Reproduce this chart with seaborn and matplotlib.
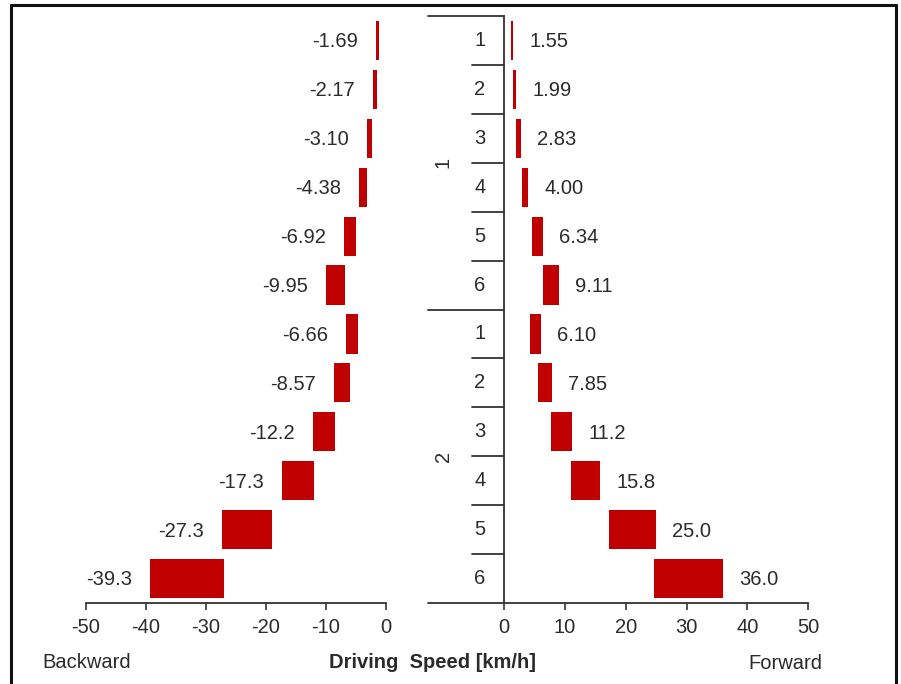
import matplotlib
matplotlib.use("Agg")
import matplotlib.pyplot as plt
import seaborn as sns
import numpy as np
import pandas as pd
from matplotlib.lines import Line2D

# ---------------- data ----------------
groups = ["1", "2"]
gears = ["1", "2", "3", "4", "5", "6"]

forward_max_g1 = [1.55, 1.99, 2.83, 4.00, 6.34, 9.11]
forward_min_g1 = [1.1, 1.4, 2.0, 2.9, 4.6, 6.4]
forward_max_g2 = [6.10, 7.85, 11.2, 15.8, 25.0, 36.0]
forward_min_g2 = [4.3, 5.6, 7.8, 11.0, 17.3, 24.7]

backward_max_g1 = [-1.69, -2.17, -3.10, -4.38, -6.92, -9.95]
backward_min_g1 = [-1.2, -1.5, -2.3, -3.1, -5.0, -6.8]
backward_max_g2 = [-6.66, -8.57, -12.2, -17.3, -27.3, -39.3]
backward_min_g2 = [-4.6, -6.0, -8.4, -11.9, -18.9, -26.9]

x_ticks_fwd = [0, 10, 20, 30, 40, 50]
x_ticks_bwd = [-50, -40, -30, -20, -10, 0]

# ---------------- table ----------------
rows = [f"{g}-{k}" for g in groups for k in gears]
fwd_max = np.array(forward_max_g1 + forward_max_g2)
fwd_min = np.array(forward_min_g1 + forward_min_g2)
bwd_max = np.array(backward_max_g1 + backward_max_g2)
bwd_min = np.array(backward_min_g1 + backward_min_g2)
df = pd.DataFrame({
    "row": rows,
    "fwd_w": fwd_max - fwd_min,
    "bwd_w": bwd_max - bwd_min,
})

sns.set_theme(style="white")
plt.rcParams["font.family"] = ["Liberation Sans", "DejaVu Sans"]
TXT = "#2b2b2b"
LINE = "#333333"
BAR = "#C00000"
FS = 14.5

W, H = 901, 684
fig = plt.figure(figsize=(W / 100, H / 100), dpi=100)
fig.patch.set_facecolor("white")

bottom = (H - 603) / H
height = (603 - 16) / H
axr = fig.add_axes([504 / W, bottom, (808.3 - 504) / W, height])
axl = fig.add_axes([86 / W, bottom, (385.7 - 86) / W, height])

# forward bars
sns.barplot(data=df, y="row", x="fwd_w", order=rows, orient="h", color=BAR,
            width=0.8, errorbar=None, left=fwd_min, linewidth=0,
            saturation=1, ax=axr)
# backward bars
sns.barplot(data=df, y="row", x="bwd_w", order=rows, orient="h", color=BAR,
            width=0.8, errorbar=None, left=bwd_min, linewidth=0,
            saturation=1, ax=axl)

for ax, ticks in ((axr, x_ticks_fwd), (axl, x_ticks_bwd)):
    ax.set_xlim(ticks[0], ticks[-1])
    ax.set_ylim(11.5, -0.5)
    ax.set_xticks(ticks)
    ax.set_xticklabels([str(t) for t in ticks])
    ax.set_yticks([])
    ax.set_xlabel("")
    ax.set_ylabel("")
    ax.patch.set_alpha(0)
    for s in ("top", "right"):
        ax.spines[s].set_visible(False)
    ax.spines["bottom"].set_color(LINE)
    ax.spines["bottom"].set_linewidth(1.3)
    ax.tick_params(axis="x", direction="out", length=5, width=1.2,
                   color=LINE, labelsize=FS, labelcolor=TXT, pad=5.5,
                   bottom=True)

axl.spines["left"].set_visible(False)
axr.spines["left"].set_color(LINE)
axr.spines["left"].set_linewidth(1.3)

# value labels
for i, (v) in enumerate(fwd_max):
    axr.annotate(f"{v:#.3g}", xy=(v, i), xytext=(11.5, -1),
                 textcoords="offset points", ha="left", va="center",
                 fontsize=FS, color=TXT)
for i, (v) in enumerate(bwd_max):
    axl.annotate(f"{v:#.3g}", xy=(v, i), xytext=(-13, -1),
                 textcoords="offset points", ha="right", va="center",
                 fontsize=FS, color=TXT)

# nested category axis
tr = axr.get_yaxis_transform()
for yb in (-0.5, 5.5, 11.5):
    axr.add_line(Line2D([-0.25, 0], [yb, yb], transform=tr, color=LINE,
                        lw=1.3, clip_on=False))
for i in range(12):
    if i % 6 != 5:
        axr.add_line(Line2D([-0.106, 0], [i + 0.5, i + 0.5], transform=tr,
                            color=LINE, lw=1.3, clip_on=False))
for gi, g in enumerate(groups):
    for ki, k in enumerate(gears):
        axr.text(-0.079, gi * 6 + ki, k, transform=tr, ha="center",
                 va="center", fontsize=FS, color=TXT)
    axr.text(-0.2, gi * 6 + 2.5, g, transform=tr, ha="center", va="center",
             rotation=90, fontsize=FS, color=TXT)

# bottom labels
fig.text(42.7 / W, 1 - 668 / H, "Backward", ha="left", va="baseline",
         fontsize=FS, color=TXT)
fig.text(822.7 / W, 1 - 669 / H, "Forward", ha="right", va="baseline",
         fontsize=FS, color=TXT)
fig.text(432.5 / W, 1 - 668 / H, "Driving  Speed [km/h]", ha="center",
         va="baseline", fontsize=FS, color=TXT, fontweight="bold")

# outer frame
fx = lambda px: px / W
fy = lambda py: 1 - py / H
fig.add_artist(Line2D([fx(10.5), fx(10.5)], [fy(5), -0.05], color="#111111",
                      lw=2.2, transform=fig.transFigure))
fig.add_artist(Line2D([fx(10.5), fx(896)], [fy(5), fy(5)], color="#111111",
                      lw=2.2, transform=fig.transFigure))
fig.add_artist(Line2D([fx(896), fx(896)], [fy(5), -0.05], color="#111111",
                      lw=2.2, transform=fig.transFigure))

fig.savefig("out.png", dpi=100, facecolor="white")
